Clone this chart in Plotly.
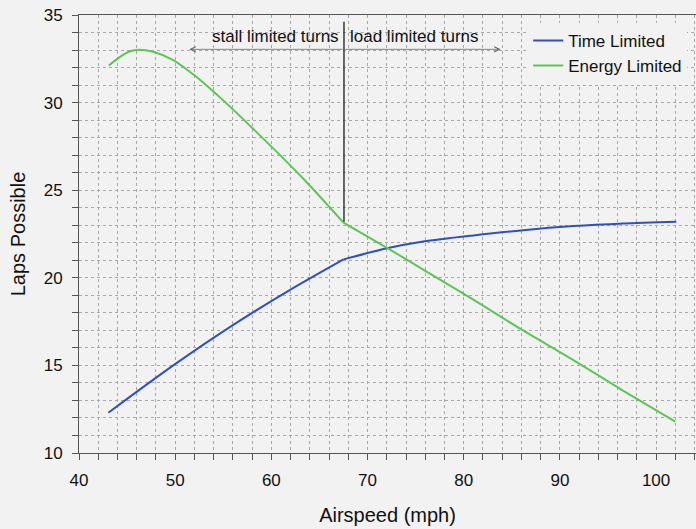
import plotly.graph_objects as go

# Data (each curve has a kink at the stall/load boundary)
time_x_stall = [43.05, 49.8, 56.0, 61.6, 67.5]
time_y_stall = [12.3, 15.0, 17.3, 19.2, 21.05]
time_x_load = [67.5, 72.15, 75.8, 81.0, 86.2, 91.4, 96.6, 102.1]
time_y_load = [21.05, 21.7, 22.07, 22.42, 22.72, 22.95, 23.1, 23.2]

energy_x_stall = [43.1, 44.3, 45.3, 46.3, 47.7, 49.8, 51.9, 53.0, 55.7, 58.3, 60.9, 63.5, 66.1, 67.5]
energy_y_stall = [32.12, 32.62, 32.93, 33.02, 32.9, 32.43, 31.6, 31.1, 29.77, 28.4, 27.0, 25.55, 24.0, 23.15]
energy_x_load = [67.5, 72.2, 76.0, 81.0, 86.0, 91.4, 96.6, 102.0]
energy_y_load = [23.15, 21.65, 20.4, 18.75, 17.05, 15.3, 13.55, 11.79]

series_names = ["Time Limited", "Energy Limited"]
x_ticks = [40, 50, 60, 70, 80, 90, 100]
y_ticks = [10, 15, 20, 25, 30, 35]

# Annotation anchors
divider_x = 67.55
divider_y = [23.2, 34.62]
arrow_y = 33.04
arrow_left_x = 51.47
arrow_right_x = 83.84
label_y = 33.76

BG = "#f2f2f2"
GRID = "#a8a8a8"
AXIS = "#555555"
TXT = "#111111"
FONT = "Liberation Sans, Arial, sans-serif"
BLUE = "#2f4fc4"
GREEN = "#5cc655"

fig = go.Figure()
fig.add_trace(go.Scatter(x=time_x_stall, y=time_y_stall, mode="lines", name=series_names[0],
                         legendgroup="t", showlegend=True,
                         line=dict(color=BLUE, width=2, shape="spline", smoothing=0.8)))
fig.add_trace(go.Scatter(x=time_x_load, y=time_y_load, mode="lines", name=series_names[0],
                         legendgroup="t", showlegend=False,
                         line=dict(color=BLUE, width=2, shape="spline", smoothing=0.8)))
fig.add_trace(go.Scatter(x=energy_x_stall, y=energy_y_stall, mode="lines", name=series_names[1],
                         legendgroup="e", showlegend=True,
                         line=dict(color=GREEN, width=2, shape="spline", smoothing=0.8)))
fig.add_trace(go.Scatter(x=energy_x_load, y=energy_y_load, mode="lines", name=series_names[1],
                         legendgroup="e", showlegend=False,
                         line=dict(color=GREEN, width=2, shape="spline", smoothing=0.8)))

# vertical divider
fig.add_shape(type="line", xref="x", yref="y", x0=divider_x, x1=divider_x,
              y0=divider_y[0], y1=divider_y[1], line=dict(color="#2a2a2a", width=1.4))

# arrows
for tip in (arrow_left_x, arrow_right_x):
    fig.add_annotation(x=tip, y=arrow_y, ax=divider_x, ay=arrow_y, xref="x", yref="y",
                       axref="x", ayref="y", text="", showarrow=True, arrowhead=5,
                       arrowsize=1.3, arrowwidth=0.8, arrowcolor="#666666")

fig.add_annotation(x=divider_x - 0.3, y=label_y, xref="x", yref="y", text="stall limited turns",
                   showarrow=False, xanchor="right", yanchor="middle",
                   font=dict(family=FONT, size=17, color=TXT))
fig.add_annotation(x=divider_x + 0.4, y=label_y, xref="x", yref="y", text="load limited turns",
                   showarrow=False, xanchor="left", yanchor="middle",
                   font=dict(family=FONT, size=17, color=TXT))

fig.update_layout(
    width=696, height=529,
    margin=dict(l=79, r=0, t=15, b=76),
    paper_bgcolor=BG, plot_bgcolor=BG,
    font=dict(family=FONT, size=17, color=TXT),
    showlegend=True,
    legend=dict(x=0.728, y=0.982, xanchor="left", yanchor="top", bgcolor=BG,
                borderwidth=0, font=dict(family=FONT, size=17, color=TXT),
                tracegroupgap=0),
)

fig.update_xaxes(
    range=[40, 104.15], tickvals=x_ticks, ticktext=[str(v) for v in x_ticks],
    showline=True, linecolor=AXIS, linewidth=1, mirror=True,
    ticks="outside", ticklen=6, tickcolor=AXIS,
    showgrid=True, gridcolor=GRID, griddash="dot", gridwidth=1,
    minor=dict(dtick=2, tick0=40, ticks="outside", ticklen=6, tickcolor=AXIS,
               showgrid=True, gridcolor=GRID, griddash="dot", gridwidth=1),
    zeroline=False, ticklabelstandoff=6,
    tickfont=dict(family=FONT, size=17, color=TXT),
    title=dict(text="Airspeed (mph)", font=dict(family=FONT, size=20, color=TXT), standoff=18),
)
fig.update_yaxes(
    range=[10, 35], tickvals=y_ticks, ticktext=[str(v) for v in y_ticks],
    showline=True, linecolor=AXIS, linewidth=1,
    ticks="outside", ticklen=6, tickcolor=AXIS,
    showgrid=True, gridcolor=GRID, griddash="dot", gridwidth=1,
    minor=dict(dtick=1, tick0=10, ticks="outside", ticklen=6, tickcolor=AXIS,
               showgrid=True, gridcolor=GRID, griddash="dot", gridwidth=1),
    zeroline=False, ticklabelstandoff=6,
    tickfont=dict(family=FONT, size=17, color=TXT),
    title=dict(text="Laps Possible", font=dict(family=FONT, size=20, color=TXT), standoff=12),
)

fig.write_html("out.html")
